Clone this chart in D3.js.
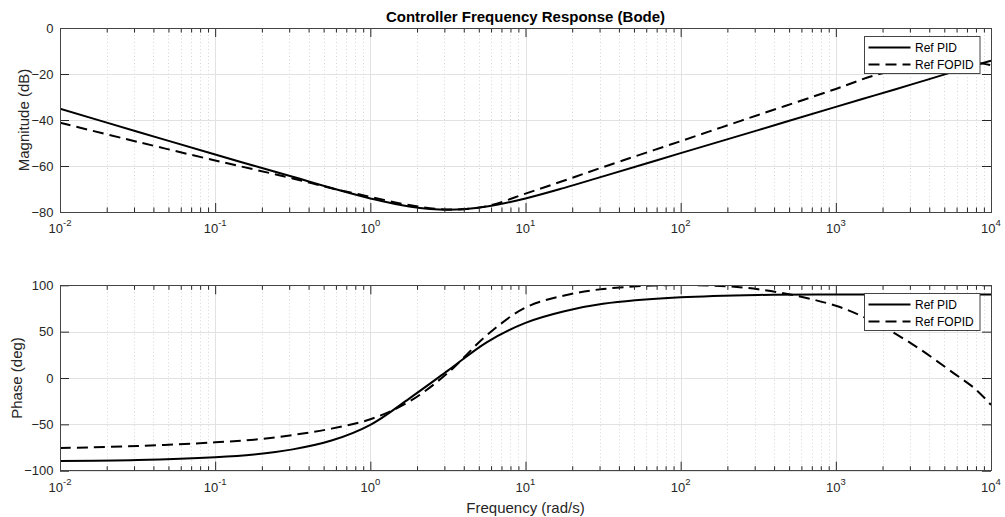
<!DOCTYPE html>
<html>
<head>
<meta charset="utf-8">
<script src="https://cdn.jsdelivr.net/npm/d3@7"></script>
<style>
	body { margin: 0; background: #fff; }
	svg { display: block; font-family: "Liberation Sans", Arial, Helvetica, sans-serif; }
</style>
</head>
<body>
<svg id="bode" width="1005" height="517"></svg>
<script>
// frequencies the curves were read at (rad/s)
var freqs = [ 0.01, 0.0316, 0.1, 0.178, 0.316, 0.562, 1, 1.78, 3.16, 5.62, 10, 17.8, 31.6, 100, 316, 1000, 1780, 3160, 5620, 7940, 10000 ];

// magnitude in dB
var magPID   = [ -35.1, -45.1, -55.0, -59.9, -64.7, -69.6, -74.1, -77.6, -79.0, -77.6, -74.1, -69.5, -64.5, -54.4, -44.4, -34.3, -29.3, -24.3, -19.2, -16.2, -14.2 ];
var magFOPID = [ -41.2, -49.5, -57.6, -61.5, -65.4, -69.7, -73.4, -77.0, -78.9, -77.5, -72.0, -66.3, -60.5, -49.2, -37.8, -26.5, -20.6, -17.0, -15.3, -15.1, -16.2 ];

// phase in degrees
var phasePID   = [ -89.5, -88.5, -85.5, -82.5, -77.0, -67.5, -50.5, -22.2, 7.9, 38.5, 59.5, 72.0, 80.0, 87.0, 89.6, 90, 90, 90, 90, 90, 90 ];
var phaseFOPID = [ -75.5, -73.4, -69.4, -66.5, -61.5, -54.6, -44.5, -25.5, 5.5, 46.0, 76.0, 89.0, 96.0, 100.3, 95.7, 77.9, 59.9, 35.8, 6.4, -12.0, -29.0 ];

// tick labels
var magTicks = [ -80, -60, -40, -20, 0 ];
var phaseTicks = [ -100, -50, 0, 50, 100 ];
var decades = [ -2, -1, 0, 1, 2, 3, 4 ];
var seriesNames = [ "Ref PID", "Ref FOPID" ];

var dimensions = {
	width: 1005,
	height: 517,
	left: 60,
	right: 991
};

var svg = d3.select( "#bode" );

svg.append( "rect" )
	.attr( "width", dimensions.width )
	.attr( "height", dimensions.height )
	.attr( "fill", "#fff" );

// shared log x scale for both panels
var xScale = d3.scaleLog()
	.domain( [ 1e-2, 1e4 ] )
	.range( [ dimensions.left, dimensions.right ] );

var majorFreqs = decades.map( d => Math.pow( 10, d ) );
var minorFreqs = [];
decades.slice( 0, -1 ).forEach( function( d ) {
	for ( var k = 2; k < 10; k++ ) minorFreqs.push( k * Math.pow( 10, d ) );
} );

var tickColor = "#262626";

function drawPanel( p ) {
	var yScale = d3.scaleLinear()
		.domain( p.domain )
		.range( [ p.bottom, p.top ] );
	var h = p.bottom - p.top;

	var g = svg.append( "g" ).attr( "class", p.id );

	// minor grid (dotted, x only)
	g.append( "g" )
		.selectAll( "line" )
		.data( minorFreqs )
		.enter()
		.append( "line" )
		.attr( "x1", d => Math.round( xScale( d ) ) + 0.5 )
		.attr( "x2", d => Math.round( xScale( d ) ) + 0.5 )
		.attr( "y1", p.top )
		.attr( "y2", p.bottom )
		.attr( "stroke", "#d6d6d6" )
		.attr( "stroke-dasharray", "1,2.5" );

	// major grid
	g.append( "g" )
		.selectAll( "line" )
		.data( majorFreqs )
		.enter()
		.append( "line" )
		.attr( "x1", d => Math.round( xScale( d ) ) + 0.5 )
		.attr( "x2", d => Math.round( xScale( d ) ) + 0.5 )
		.attr( "y1", p.top )
		.attr( "y2", p.bottom )
		.attr( "stroke", "#e2e2e2" );

	g.append( "g" )
		.selectAll( "line" )
		.data( p.ticks )
		.enter()
		.append( "line" )
		.attr( "x1", dimensions.left )
		.attr( "x2", dimensions.right )
		.attr( "y1", d => Math.round( yScale( d ) ) + 0.5 )
		.attr( "y2", d => Math.round( yScale( d ) ) + 0.5 )
		.attr( "stroke", "#e2e2e2" );

	// clip the curves to the axes box
	svg.append( "clipPath" )
		.attr( "id", "clip-" + p.id )
		.append( "rect" )
		.attr( "x", dimensions.left )
		.attr( "y", p.top )
		.attr( "width", dimensions.right - dimensions.left )
		.attr( "height", h );

	var line = d3.line()
		.x( d => xScale( d[ 0 ] ) )
		.y( d => yScale( d[ 1 ] ) )
		.curve( d3.curveCatmullRom.alpha( 0.5 ) );

	var curves = g.append( "g" ).attr( "clip-path", "url(#clip-" + p.id + ")" );
	p.series.forEach( function( values, i ) {
		curves.append( "path" )
			.datum( freqs.map( ( f, j ) => [ f, values[ j ] ] ) )
			.attr( "d", line )
			.attr( "fill", "none" )
			.attr( "stroke", "#000" )
			.attr( "stroke-width", 2 )
			.attr( "stroke-dasharray", i == 1 ? "11,6" : null );
	} );

	// ticks, all pointing inside
	g.append( "g" )
		.attr( "transform", `translate(0,${p.bottom})` )
		.call( d3.axisBottom( xScale ).tickValues( majorFreqs ).tickSize( -9 ).tickSizeOuter( 0 ).tickFormat( "" ) );
	g.append( "g" )
		.attr( "transform", `translate(0,${p.bottom})` )
		.call( d3.axisBottom( xScale ).tickValues( minorFreqs ).tickSize( -4.5 ).tickSizeOuter( 0 ).tickFormat( "" ) );
	g.append( "g" )
		.attr( "transform", `translate(0,${p.top})` )
		.call( d3.axisTop( xScale ).tickValues( majorFreqs ).tickSize( -9 ).tickSizeOuter( 0 ).tickFormat( "" ) );
	g.append( "g" )
		.attr( "transform", `translate(0,${p.top})` )
		.call( d3.axisTop( xScale ).tickValues( minorFreqs ).tickSize( -4.5 ).tickSizeOuter( 0 ).tickFormat( "" ) );

	var yLeft = g.append( "g" )
		.attr( "transform", `translate(${dimensions.left},0)` )
		.call( d3.axisLeft( yScale ).tickValues( p.ticks ).tickSize( -9 ).tickSizeOuter( 0 ).tickPadding( 6.5 ) );
	g.append( "g" )
		.attr( "transform", `translate(${dimensions.right},0)` )
		.call( d3.axisRight( yScale ).tickValues( p.ticks ).tickSize( -9 ).tickSizeOuter( 0 ).tickFormat( "" ) );

	g.selectAll( ".domain" ).remove();
	g.selectAll( ".tick line" ).attr( "stroke", tickColor );

	yLeft.selectAll( "text" )
		.attr( "font-size", "13px" )
		.attr( "font-family", null )
		.style( "fill", tickColor );

	// 10^n labels under the x axis
	decades.forEach( function( d ) {
		var t = g.append( "text" )
			.attr( "x", xScale( Math.pow( 10, d ) ) )
			.attr( "y", p.bottom + 21 )
			.attr( "text-anchor", "middle" )
			.attr( "font-size", "13px" )
			.style( "fill", tickColor );
		t.append( "tspan" ).text( "10" );
		t.append( "tspan" )
			.attr( "font-size", "9.5px" )
			.attr( "dy", -7 )
			.text( d );
	} );

	// box
	g.append( "rect" )
		.attr( "x", dimensions.left + 0.5 )
		.attr( "y", Math.round( p.top ) + 0.5 )
		.attr( "width", dimensions.right - dimensions.left )
		.attr( "height", Math.round( h ) )
		.attr( "fill", "none" )
		.attr( "stroke", "#444" );

	// y label
	g.append( "text" )
		.attr( "transform", `translate(${p.labelX},${( p.top + p.bottom ) / 2}) rotate(-90)` )
		.attr( "text-anchor", "middle" )
		.attr( "font-size", "15px" )
		.style( "fill", tickColor )
		.text( p.label );

	// legend
	var lg = g.append( "g" ).attr( "transform", `translate(864.5,${Math.round( p.top ) + 8.5})` );
	lg.append( "rect" )
		.attr( "width", 115.5 )
		.attr( "height", 37 )
		.attr( "fill", "#fff" )
		.attr( "stroke", "#444" );
	seriesNames.forEach( function( name, i ) {
		var yy = 11 + i * 17;
		lg.append( "line" )
			.attr( "x1", 4 )
			.attr( "x2", 46 )
			.attr( "y1", yy )
			.attr( "y2", yy )
			.attr( "stroke", "#000" )
			.attr( "stroke-width", 2 )
			.attr( "stroke-dasharray", i == 1 ? "11,6" : null );
		lg.append( "text" )
			.attr( "x", 50.5 )
			.attr( "y", yy + 4.3 )
			.attr( "font-size", "12px" )
			.style( "fill", "#000" )
			.text( name );
	} );
}

drawPanel( {
	id: "mag",
	top: 28,
	bottom: 212,
	domain: [ -80, 0 ],
	ticks: magTicks,
	series: [ magPID, magFOPID ],
	label: "Magnitude (dB)",
	labelX: 28.5
} );

drawPanel( {
	id: "phase",
	top: 285.3,
	bottom: 470.7,
	domain: [ -100, 100 ],
	ticks: phaseTicks,
	series: [ phasePID, phaseFOPID ],
	label: "Phase (deg)",
	labelX: 21.5
} );

// titles
svg.append( "text" )
	.attr( "x", ( dimensions.left + dimensions.right ) / 2 )
	.attr( "y", 21.5 )
	.attr( "text-anchor", "middle" )
	.attr( "font-size", "15px" )
	.attr( "font-weight", "bold" )
	.style( "fill", "#000" )
	.text( "Controller Frequency Response (Bode)" );

svg.append( "text" )
	.attr( "x", ( dimensions.left + dimensions.right ) / 2 )
	.attr( "y", 512.5 )
	.attr( "text-anchor", "middle" )
	.attr( "font-size", "15px" )
	.style( "fill", tickColor )
	.text( "Frequency (rad/s)" );
</script>
</body>
</html>
